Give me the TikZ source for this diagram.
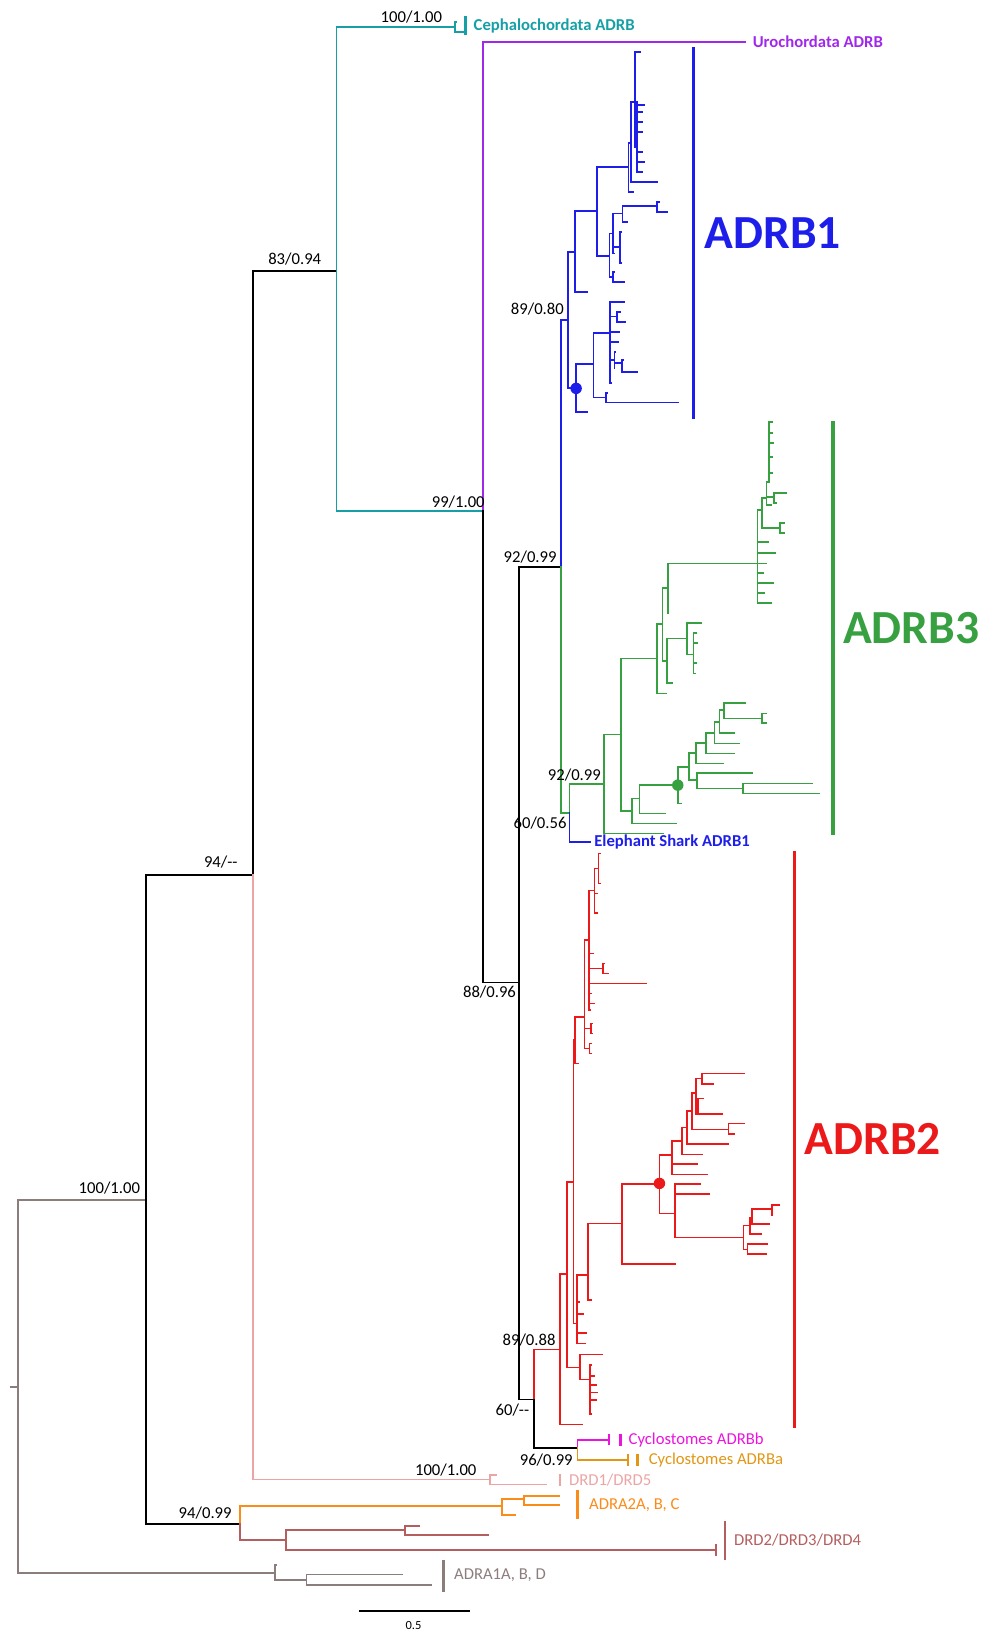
\documentclass[tikz,border=0pt]{standalone}
\usepackage{fontspec}
\setmainfont{Carlito}
\usetikzlibrary{positioning}

\definecolor{cephcol}{RGB}{22,160,165}
\definecolor{urocol}{RGB}{160,40,235}
\definecolor{adrbonecol}{RGB}{30,30,235}
\definecolor{bthreecol}{RGB}{55,160,65}
\definecolor{btwocol}{RGB}{235,25,25}
\definecolor{cycbcol}{RGB}{235,20,220}
\definecolor{cycacol}{RGB}{225,150,20}
\definecolor{drdonecol}{RGB}{235,165,165}
\definecolor{atwocol}{RGB}{250,140,25}
\definecolor{drdtwocol}{RGB}{180,95,95}
\definecolor{aonecol}{RGB}{140,125,125}

% one internal node: vertical from #2 to #3 at x=#1, then a branch to x for every y/x pair
\newcommand{\tipcomb}[4]{%
  \draw (#1,#2) -- (#1,#3);
  \foreach \ty/\tx in {#4} {\draw (#1,\ty) -- (\tx,\ty);}%
}

\begin{document}
\begin{tikzpicture}[
  x=0.5pt, y=-0.5pt, line width=0.85pt, line cap=rect,
  bs/.style      = {font=\fontsize{8}{9}\selectfont, inner sep=0pt},
  tiplbl/.style  = {font=\fontsize{8}{9}\selectfont, anchor=west, inner sep=0pt},
  tipbold/.style = {tiplbl, font=\fontsize{8}{9}\selectfont\bfseries},
  clade/.style   = {font=\fontsize{22.8}{24}\selectfont\bfseries, inner sep=0pt},
  bar/.style     = {line width=1.7pt, line cap=butt},
  grpbar/.style  = {line width=1.3pt, line cap=butt},
  dot/.style     = {circle, fill, inner sep=0pt, minimum size=5.5pt},
]
\useasboundingbox (0,0) rectangle (945,1568);

% ---- backbone ---------------------------------------------------------------
\coordinate (stub)  at (10,1332);
\coordinate (root)  at (17,1332);
\coordinate (n100)  at (140,1152);
\coordinate (n94a)  at (243,840);
\coordinate (n94b)  at (230.3,1463);
\coordinate (nA1)   at (264,1510);
\coordinate (n83)   at (323,260);
\coordinate (n99)   at (464,491);
\coordinate (n88)   at (498.5,943.4);
\coordinate (n92a)  at (538.6,544.5);
\coordinate (n89a)  at (545.2,307.3);
\coordinate (n60b)  at (546.8,781);
\coordinate (n92c)  at (579.6,753);
\coordinate (n60a)  at (512.8,1343.8);
\coordinate (n89b)  at (537.8,1295.8);
\coordinate (n96)   at (554.6,1390);
\coordinate (nD1)   at (470.2,1420.7);
\coordinate (nA2)   at (482.2,1446.3);
\coordinate (nD2)   at (274.3,1479);
\coordinate (tCeph) at (437,25.6);
\coordinate (tUro)  at (715,40);
\coordinate (tEle)  at (566.6,808.3);
\coordinate (tCycb) at (584.7,1382.3);
\coordinate (tCyca) at (602.8,1402.1);

\draw[aonecol] (stub) -- (root);
\draw[aonecol] (root) |- (n100);
\draw[aonecol] (root) |- (nA1);
\draw (n100) |- (n94a);
\draw (n100) |- (n94b);
\draw (n94a) |- (n83);
\draw[drdonecol] (n94a) |- (nD1);
\draw[cephcol] (n83) |- (tCeph);
\draw[cephcol] (n83) |- (n99);
\draw[urocol] (n99) |- (tUro);
\draw (n99) |- (n88);
\draw (n88) |- (n92a);
\draw (n88) |- (n60a);
\draw[adrbonecol] (n92a) |- (n89a);
\draw[bthreecol] (n92a) |- (n60b);
\draw[bthreecol] (n60b) |- (n92c);
\draw[adrbonecol] (n60b) |- (tEle);
\draw[btwocol] (n60a) |- (n89b);
\draw (n60a) |- (n96);
\draw[cycbcol] (n96) |- (tCycb);
\draw[cycacol] (n96) |- (tCyca);
\draw[atwocol] (n94b) |- (nA2);
\draw[drdtwocol] (n94b) |- (nD2);

% ---- single lineages and outgroups ------------------------------------------
\begin{scope}[cephcol]
  \tipcomb{437}{20.8}{31}{20.8/438, 31/445}
  \draw[grpbar] (447,15) -- (447,34);
\end{scope}
\begin{scope}[cycbcol]
  \draw (584.7,1378.1) -- (584.7,1387);
  \draw[grpbar] (595.6,1376.5) -- (595.6,1388.4);
\end{scope}
\begin{scope}[cycacol]
  \draw (602.8,1397.3) -- (602.8,1406.9);
  \draw[grpbar] (611.8,1395.7) -- (611.8,1407.9);
\end{scope}
\begin{scope}[drdonecol]
  \tipcomb{470.2}{1416.5}{1425.5}{1416.5/476.2, 1425.5/524.4}
  \draw[grpbar] (537.7,1415.6) -- (537.7,1427.1);
\end{scope}
\begin{scope}[atwocol]
  \tipcomb{482.2}{1439.6}{1455}{1439.6/503.3, 1455/494.3}
  \tipcomb{503.3}{1436.4}{1445.3}{1436.4/536.5, 1445.3/536.5}
  \draw[grpbar] (554.6,1430.3) -- (554.6,1458.1);
\end{scope}
\begin{scope}[drdtwocol]
  \tipcomb{274.3}{1469.3}{1488.6}{1469.3/388.8, 1488.6/687.2}
  \tipcomb{388.8}{1464.9}{1474.1}{1464.9/402.7, 1474.1/469}
  \draw (687.2,1483.7) -- (687.2,1493.4);
  \draw[grpbar] (696.2,1460.4) -- (696.2,1497.5);
\end{scope}
\begin{scope}[aonecol]
  \tipcomb{264}{1503}{1517.4}{1503/265, 1517.4/294.2}
  \tipcomb{294.2}{1511.9}{1522.2}{1511.9/385.8, 1522.2/413.5}
  \draw[grpbar] (425.6,1497.5) -- (425.6,1528.6);
\end{scope}

% ---- ADRB1 ------------------------------------------------------------------
\begin{scope}[adrbonecol]
  \tipcomb{545.2}{241.7}{372.9}{241.7/552.2, 372.9/553.2}
  \tipcomb{552.2}{202.3}{280.1}{202.3/573, 280.1/563.4}
  \tipcomb{573}{160}{245.5}{160/603.4, 245.5/585.2}
  \tipcomb{603.4}{137}{184.1}{137/606, 184.1/608.2}
  \tipcomb{606}{97.6}{174.5}{97.6/609.8, 174.5/630.6}
  \tipcomb{609.8}{49.6}{140.8}{49.6/614.6, 120/612}
  \tipcomb{612}{97.6}{164.9}{100.8/618.5, 107.2/616.9, 116.8/616.9, 126.4/616.9,
                              145.7/616.9, 155.3/618.5, 164.9/616.9}
  \tipcomb{585.2}{224.1}{266.3}{224.1/588.4, 266.3/588.4}
  \tipcomb{588.4}{204.9}{243.3}{204.9/597.7, 237/595.4, 243.3/590}
  \tipcomb{595.4}{222.5}{252.2}{222.5/596.5, 252.2/596.5}
  \tipcomb{597.7}{197.8}{212.9}{197.8/630.6, 212.9/602.5}
  \tipcomb{630.6}{193.7}{203.3}{193.7/632.5, 203.3/640.2}
  \tipcomb{588.4}{260.9}{270.5}{260.9/589.6, 270.5/599.6}
  \tipcomb{553.2}{349.5}{395.3}{349.5/569.8, 395.3/563.4}
  \tipcomb{569.8}{319.5}{381.6}{319.5/585.8, 381.6/582}
  \tipcomb{582}{377.1}{386.4}{377.1/583.3, 386.4/651.4}
  \tipcomb{585.8}{289.7}{367.5}{289.7/599.3, 304/592.2, 318.5/594.8, 328.1/593.8,
                                345.7/590, 367.5/586.8}
  \tipcomb{592.2}{299.3}{308.9}{299.3/595.4, 308.9/600.2}
  \tipcomb{590}{337.7}{353.7}{337.7/591, 348.3/597}
  \tipcomb{597}{345.3}{356.9}{345.3/598.2, 356.9/612.1}
  \node[dot] (dotB1) at (553.2,372.9) {};
  \draw[bar] (665.8,45.5) -- (665.8,402.4);
\end{scope}

% ---- ADRB3 ------------------------------------------------------------------
\begin{scope}[bthreecol]
  \tipcomb{579.6}{705.2}{800.3}{705.2/596.1, 800.3/636.4}
  \tipcomb{596.1}{632.2}{778.5}{632.2/630.6, 778.5/606.6}
  \tipcomb{606.6}{766.7}{790.7}{766.7/614, 790.7/648.9}
  \tipcomb{614}{753.9}{781.1}{753.9/650.8, 781.1/638.6}
  \tipcomb{650.8}{736.3}{771.5}{736.3/661.7, 771.5/653.7}
  \tipcomb{661.7}{722.8}{749.1}{722.8/668.1, 749.1/669}
  \tipcomb{669}{742}{757}{742/722.5, 757/713.2}
  \tipcomb{713.2}{752.3}{761.9}{752.3/779.5, 761.9/786.8}
  \tipcomb{668.1}{713.2}{733}{713.2/677.7, 733/694}
  \tipcomb{677.7}{703.6}{723.5}{703.6/686, 723.5/705.2}
  \tipcomb{686}{693}{713.8}{693/690.8, 713.8/710}
  \tipcomb{690.8}{681.8}{703.6}{681.8/695.3, 703.6/704.9}
  \tipcomb{695.3}{674.8}{689.8}{674.8/715.5, 689.8/731.5}
  \tipcomb{731.5}{685}{694}{685/735.6, 694/735.6}
  \tipcomb{630.6}{599.2}{665.8}{599.2/636.1, 665.8/639.3}
  \tipcomb{636.1}{564.3}{634.8}{564.3/641.2, 634.8/640.2}
  \tipcomb{640.2}{613}{655.6}{613/659.4, 655.6/645.7}
  \tipcomb{659.4}{598}{628.4}{598/672.9, 628.4/665.8}
  \tipcomb{665.8}{607.6}{646.6}{607.6/668, 617.7/669.5, 636.9/668, 646.6/667}
  \tipcomb{641.2}{541}{589}{541/727.3, 589/641.8}
  \tipcomb{727.3}{489.8}{578.8}{489.8/731.5, 520.2/737.9, 530.7/744.3, 541/735.6,
                                549.9/733, 559.5/742.7, 569.2/733.7, 578.8/740.1}
  \tipcomb{731.5}{478}{506.7}{478/736, 506.7/749.1}
  \tipcomb{749.1}{502}{511.5}{502/753.2, 511.5/753.2}
  \tipcomb{736}{462.6}{485}{462.6/738.5, 476.9/743.3, 485/740}
  \tipcomb{743.3}{473.1}{482.7}{473.1/754.5, 482.7/745}
  \tipcomb{738.5}{404.9}{462.6}{404.9/741.5, 416.1/741.5, 425.7/742, 438.5/741.5,
                                454.5/741}
  \node[dot] (dotB3) at (650.8,753.9) {};
  \draw[bar] (799.8,404) -- (799.8,802);
\end{scope}

% ---- ADRB2 ------------------------------------------------------------------
\begin{scope}[btwocol]
  \tipcomb{537.8}{1223.4}{1367.8}{1223.4/544.2, 1367.8/558.6}
  \tipcomb{544.2}{1134.8}{1313.1}{1134.8/550.6, 1313.1/557}
  \tipcomb{557}{1300.6}{1324.6}{1300.6/577.8, 1324.6/566.6}
  \tipcomb{566.6}{1311}{1358}{1311/568, 1321/570.5, 1330/572.5, 1337/573.5,
                              1344/572.5, 1358/568}
  \tipcomb{550.6}{998.8}{1270.8}{998.8/552.2, 1270.8/553.8}
  \tipcomb{553.8}{1224.4}{1290}{1224.4/564.5, 1250/556.5, 1262/560, 1280/563, 1290/562}
  \tipcomb{564.5}{1174.8}{1248.4}{1174.8/597, 1248.4/567.5}
  \tipcomb{597}{1137}{1213.9}{1137/633.2, 1213.9/648.2}
  \tipcomb{633.2}{1109.2}{1165.2}{1109.2/645, 1165.2/648.2}
  \tipcomb{645}{1095.4}{1127.7}{1095.4/655.2, 1117.8/669, 1127.7/679.3}
  \tipcomb{655.2}{1082.6}{1108.6}{1082.6/660, 1108.6/673.8}
  \tipcomb{660}{1066.6}{1098.6}{1066.6/664.2, 1098.6/699.4}
  \tipcomb{664.2}{1049.3}{1084.5}{1049.3/668.4, 1084.5/699.4}
  \tipcomb{699.4}{1078.7}{1088.9}{1078.7/714.5, 1088.9/704.9}
  \tipcomb{668.4}{1035.5}{1069.8}{1035.5/673.8, 1062/670}
  \tipcomb{670}{1054.8}{1069.8}{1054.8/675, 1069.8/693}
  \tipcomb{673.8}{1030.7}{1041}{1030.7/714.5, 1041/684.4}
  \tipcomb{648.2}{1137}{1188.2}{1137/672.2, 1146.7/681.2, 1188.2/713.8}
  \tipcomb{713.8}{1176.7}{1199.7}{1176.7/720.3, 1199.7/717.7}
  \tipcomb{717.7}{1194.6}{1204.2}{1194.6/736.9, 1204.2/735.6}
  \tipcomb{720.3}{1169}{1185}{1169/721.9, 1185/730.5}
  \tipcomb{721.9}{1161}{1175.5}{1161/741, 1175.5/738.8}
  \tipcomb{741}{1157}{1167}{1157/748.4, 1167/741.5}
  % upper comb
  \tipcomb{552.2}{976.3}{1021.2}{976.3/561.2, 1021.2/555.4}
  \tipcomb{561.2}{902.7}{1006.7}{902.7/565.6, 987.5/567.6, 1006.7/566}
  \tipcomb{567.6}{982.7}{992.3}{982.7/568.5, 992.3/569}
  \tipcomb{566}{1002}{1011.5}{1002/568, 1011.5/568}
  \tipcomb{565.6}{855}{970}{855/570.8, 915.5/569.9, 929.9/578.8, 944.4/620.4,
                            954/568, 963.6/570, 970/567}
  \tipcomb{578.8}{925.1}{934.7}{925.1/580, 934.7/584.2}
  \tipcomb{570.8}{834}{877}{834/574.6, 857.9/573.5, 877/573}
  \tipcomb{574.6}{819.5}{848.3}{819.5/576.5, 848.3/576.2}
  \node[dot] (dotB2) at (633.2,1136.3) {};
  \draw[bar] (763,817) -- (763,1371);
\end{scope}

% ---- tip and clade labels ---------------------------------------------------
\node[tipbold, text=cephcol] (lCeph) at (454,25) {Cephalochordata ADRB};
\node[tipbold, text=urocol] (lUro) at (722,40) {Urochordata ADRB};
\node[tipbold, text=adrbonecol] (lEle) at (569.8,808.3) {Elephant Shark ADRB1};
\node[tiplbl, text=cycbcol] (lCycb) at (602.8,1382.3) {Cyclostomes ADRBb};
\node[tiplbl, text=cycacol] (lCyca) at (622.1,1402.1) {Cyclostomes ADRBa};
\node[tiplbl, text=drdonecol] (lD1) at (545.5,1420.7) {DRD1/DRD5};
\node[tiplbl, text=atwocol] (lA2) at (564.8,1445.3) {ADRA2A, B, C};
\node[tiplbl, text=drdtwocol] (lD2) at (704.1,1479) {DRD2/DRD3/DRD4};
\node[tiplbl, text=aonecol] (lA1) at (435.2,1512.5) {ADRA1A, B, D};

\node[clade, text=adrbonecol] (cB1) at (742,224) {ADRB1};
\node[clade, text=bthreecol] (cB3) at (875,603) {ADRB3};
\node[clade, text=btwocol] (cB2) at (838,1094) {ADRB2};

% ---- support values ---------------------------------------------------------
\node[bs] (bCeph) at (395,16)      {100/1.00};
\node[bs] (b83)   at (283,249)     {83/0.94};
\node[bs] (b99)   at (440,482)     {99/1.00};
\node[bs] (b94a)  at (212,828)     {94/{-}{-}};
\node[bs] (b100)  at (105,1141)    {100/1.00};
\node[bs] (b94b)  at (197,1453)    {94/0.99};
\node[bs] (b88)   at (470,953)     {88/0.96};
\node[bs] (b92a)  at (509,535)     {92/0.99};
\node[bs] (b89a)  at (516,297)     {89/0.80};
\node[bs] (b92c)  at (551.5,744.3) {92/0.99};
\node[bs] (b60b)  at (518.6,790.7) {60/0.56};
\node[bs] (b89b)  at (508,1287)    {89/0.88};
\node[bs] (b60a)  at (492,1354)    {60/{-}{-}};
\node[bs] (b96)   at (524.5,1402)  {96/0.99};
\node[bs] (bD1)   at (428,1412)    {100/1.00};

% ---- scale ------------------------------------------------------------------
\coordinate (sc0) at (344.8,1547.1);
\coordinate (sc1) at (450.9,1547.1);
\draw[line width=0.9pt, line cap=butt] (sc0) -- (sc1);
\node[bs, font=\fontsize{6}{7}\selectfont] (lsc) at (397,1560.6) {0.5};

\end{tikzpicture}
\end{document}
